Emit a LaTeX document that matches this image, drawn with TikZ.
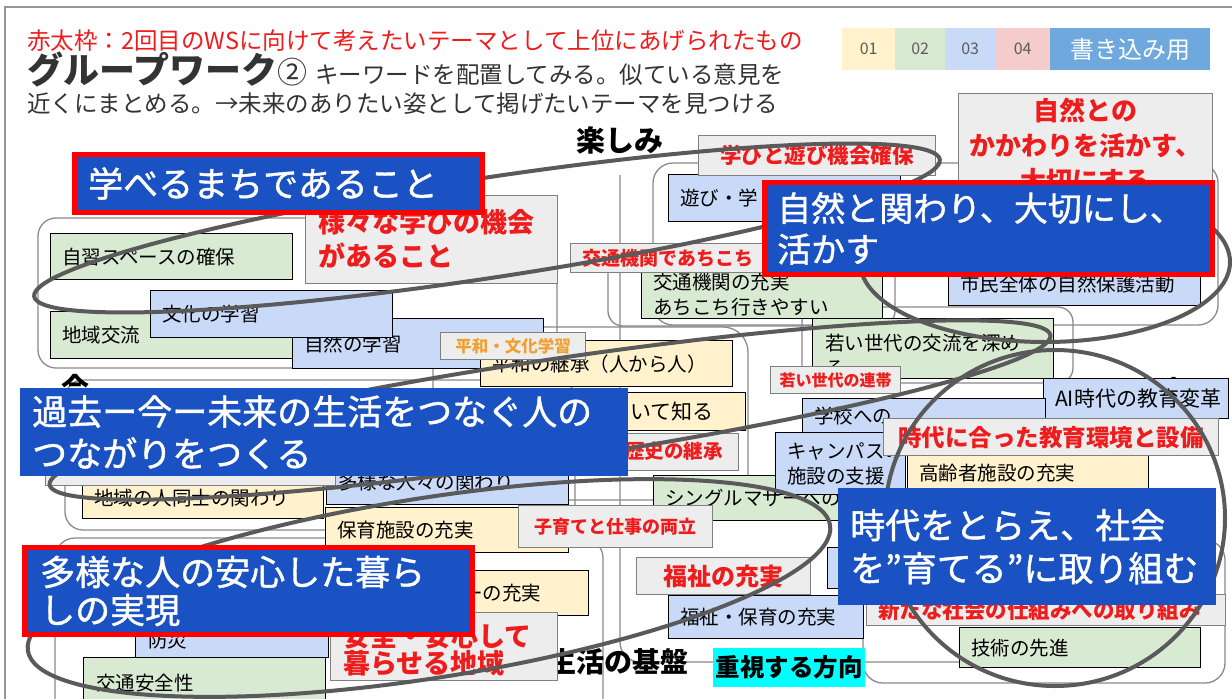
\documentclass[tikz,border=0pt]{standalone}
\usepackage{fontspec}
\setmainfont{Noto Sans CJK JP}
\newfontfamily\thickjp{Noto Sans CJK JP}[FakeBold=1.2]
\definecolor{yelc}{HTML}{FFF2CC}
\definecolor{grnc}{HTML}{D9EAD3}
\definecolor{bluc}{HTML}{C9DAF8}
\definecolor{pnkc}{HTML}{F4CCCC}
\definecolor{legc}{HTML}{6FA8DC}
\definecolor{themec}{HTML}{1A52C4}
\definecolor{gfill}{HTML}{EDEDED}
\definecolor{gbord}{HTML}{7F7F7F}
\definecolor{redc}{HTML}{EE1C1C}
\definecolor{orc}{HTML}{F0A030}
\definecolor{ellc}{HTML}{5A5A5A}
\definecolor{framec}{HTML}{8A8A8A}
\definecolor{darkc}{HTML}{333333}
\definecolor{cyanc}{HTML}{00FFFF}
\newcommand\fs[2]{\fontsize{#1}{#2}\selectfont}
\newcommand\bxl[8]{%
  \node[#2,minimum width=#5pt,minimum height=#6pt] (#1) at (#3,#4) {};
  \node[#7,anchor=west] (#1t) at ([xshift=12pt]#1.west) {#8};}
\newcommand\bxc[8]{%
  \node[#2,minimum width=#5pt,minimum height=#6pt] (#1) at (#3,#4) {};
  \node[#7] (#1t) at (#1.center) {#8};}
\begin{document}
\begin{tikzpicture}[x=1pt,y=-1pt,
  frame/.style={draw=framec,line width=1.3pt,rounded corners=#1},
  frame/.default=18,
  stk/.style={draw=black,line width=1.3pt,anchor=north west,inner sep=0pt},
  yel/.style={stk,fill=yelc}, grn/.style={stk,fill=grnc}, blu/.style={stk,fill=bluc},
  gry/.style={draw=gbord,line width=1.3pt,fill=gfill,anchor=north west,inner sep=0pt},
  theme/.style={fill=themec,anchor=north west,inner sep=0pt},
  themer/.style={theme,draw=red,line width=5pt},
  tx/.style={font=\fs{19.5}{25},text=black,inner sep=0pt,align=left},
  rt/.style={text=redc,inner sep=0pt,align=center},
  wt/.style={text=white,inner sep=0pt,align=left},
  lab/.style={text=black,inner sep=0pt,font=\bfseries\fs{28}{32}},
  lg/.style={anchor=north west,inner sep=0pt,minimum height=42pt,text=darkc!80,font=\fs{16}{18}},
  ell/.style={draw=ellc,line width=4pt}]
\useasboundingbox (0,0) rectangle (1232,699);
\fill[white] (0,0) rectangle (1232,699);
\draw[framec!90,line width=2pt] (5,7) rectangle (1240,710);

% header
\node[anchor=west,text=redc,font=\fs{23.5}{28},inner sep=0pt] (h1) at (27,41) {赤太枠：2回目のWSに向けて考えたいテーマとして上位にあげられたもの};
\node[anchor=west,text=darkc,inner sep=0pt] (h2) at (27,69) {{\bfseries\fs{36}{40}グループワーク}{\fs{30}{36}②}\hspace{8pt}{\fs{23.5}{28}キーワードを配置してみる。似ている意見を}};
\node[anchor=west,text=darkc,font=\fs{23.5}{28},inner sep=0pt] (h3) at (27,104) {近くにまとめる。→未来のありたい姿として掲げたいテーマを見つける};

% legend
\node[lg,fill=yelc,minimum width=53pt] (L1) at (842,28) {01};
\node[lg,fill=grnc,minimum width=50pt] (L2) at (895,28) {02};
\node[lg,fill=bluc,minimum width=50pt] (L3) at (945,28) {03};
\node[lg,fill=pnkc,minimum width=55pt] (L4) at (995,28) {04};
\node[lg,fill=legc,minimum width=160pt,text=white,font=\fs{24}{28}] (L5) at (1050,28) {書き込み用};

% group frames and axis
\draw[frame=18] (38,218) rectangle (557,368);
\draw[frame=20] (653,163) rectangle (1218,325);
\draw[frame=15] (608,250) rectangle (895,326);
\draw[frame=15] (802,307) rectangle (1073,383);
\draw[frame=25] (433,327) rectangle (748,500);
\draw[frame=18] (65,380) rectangle (575,530);
\draw[frame=20] (55,538) rectangle (603,720);
\draw[frame=20] (863,540) rectangle (1225,683);
\draw[frame=20] (620,175) -- (620,662) -- (960,662);

% axis labels
\node[lab,font=\bfseries\fs{29}{32}] (top) at (620,140) {楽しみ};
\node[lab] (now) at (75,388) {今};
\node[lab,font=\bfseries\fs{27}{30}] (fut) at (1160,390) {未来};
\node[lab,anchor=west] (base) at (548,662) {生活の基盤};
\node[fill=cyanc,anchor=north west,inner sep=0pt,minimum width=152pt,minimum height=39pt,font=\bfseries\fs{24.5}{28}] (dir) at (713,648) {重視する方向};

% sticky notes
\bxl{s1}{grn}{50}{233}{242}{46}{tx}{自習スペースの確保}
\bxl{s2}{grn}{50}{311}{243}{47}{tx}{地域交流}
\bxl{s4}{blu}{292}{318}{251}{50}{tx}{自然の学習}
\bxl{s3}{blu}{150}{290}{242}{47}{tx}{文化の学習}
\bxl{s5}{blu}{668}{174}{232}{47}{tx}{遊び・学}
\bxl{s6}{grn}{641}{270}{241}{48}{tx}{交通機関の充実\\あちこち行きやすい}
\bxl{s7}{blu}{948}{262}{252}{43}{tx}{市民全体の自然保護活動}
\node[grn,minimum width=241pt,minimum height=60pt] (s8) at (812,318) {};
\node[tx,anchor=west] (s8t) at (825,355) {若い世代の交流を深め\\る};
\bxl{s9}{yel}{480}{340}{252}{46}{tx}{平和の継承（人から人）}
\node[yel,minimum width=275pt,minimum height=38pt] (s10) at (470,392) {};
\node[tx,anchor=west,font=\fs{21}{25}] (s10t) at (588,411) {について知る};
\bxl{s11}{blu}{1043}{378}{185}{40}{tx,font=\fs{21}{25}}{AI時代の教育変革}
\bxl{s12}{blu}{802}{398}{243}{34}{tx}{学校への}
\bxl{s15}{grn}{653}{475}{250}{45}{tx}{シングルマザーへの}
\bxl{s13}{blu}{775}{432}{130}{62}{tx}{キャンパスの\\施設の支援}
\bxl{s14}{yel}{907}{450}{241}{45}{tx}{高齢者施設の充実}
\node[blu,minimum width=60pt,minimum height=41pt] (s24) at (827,547) {};
\bxl{s16}{blu}{326}{458}{242}{46}{tx}{多様な人々の関わり}
\bxl{s17}{yel}{82}{477}{241}{41}{tx}{地域の人同士の関わり}
\bxl{s18}{yel}{325}{507}{243}{45}{tx}{保育施設の充実}
\node[yel,minimum width=258pt,minimum height=45pt] (s19) at (330,570) {};
\node[tx,anchor=west] (s19t) at (463,593) {ーの充実};
\node[blu,minimum width=193pt,minimum height=42pt] (s20) at (135,615) {};
\node[tx,anchor=west] (s20t) at (148,640) {防災};
\node[grn,minimum width=242pt,minimum height=60pt] (s21) at (83,657) {};
\node[tx,anchor=west] (s21t) at (96,683) {交通安全性};
\bxl{s22}{blu}{668}{595}{195}{43}{tx}{福祉・保育の充実}
\bxl{s23}{grn}{959}{627}{241}{40}{tx}{技術の先進}

% gray title boxes
\bxc{g1}{gry}{698}{135}{237}{40}{rt,font=\bfseries\fs{21.5}{26}}{学びと遊び機会確保}
\bxc{g2}{gry}{958}{93}{254}{104}{rt,font=\bfseries\fs{26}{35}}{自然との\\かかわりを活かす、\\大切にする}
\node[gry,minimum width=252pt,minimum height=88pt] (g3) at (305,195) {};
\node[rt,anchor=west,align=left,font=\bfseries\fs{27}{34}] (g3t) at (318,239) {様々な学びの機会\\があること};
\node[gry,minimum width=232pt,minimum height=29pt] (g4) at (570,243) {};
\node[rt,anchor=west,font=\bfseries\fs{19}{22}] (g4t) at (582,258) {交通機関であちこち};
\bxc{g5}{gry}{440}{332}{145}{27}{rt,text=orc,font=\bfseries\fs{16.5}{20}}{平和・文化学習}
\bxc{g6}{gry}{770}{366}{130}{27}{rt,font=\bfseries\fs{16}{20}}{若い世代の連帯}
\node[gry,minimum width=138pt,minimum height=37pt] (g7) at (600,433) {};
\node[rt,anchor=west,font=\bfseries\fs{19.5}{22}] (g7t) at (625,451) {歴史の継承};
\bxc{g8}{gry}{518}{505}{194}{42}{rt,font=\bfseries\fs{18}{22}}{子育てと仕事の両立}
\bxc{g9}{gry}{883}{418}{335}{37}{rt,font=\bfseries\fs{23.5}{27}}{時代に合った教育環境と設備}
\bxc{g10}{gry}{636}{557}{174}{37}{rt,font=\bfseries\fs{24}{28}}{福祉の充実}
\node[gry,minimum width=227pt,minimum height=68pt] (g11) at (330,612) {};
\node[rt,anchor=west,align=left,font=\bfseries\fs{27}{27}] (g11t) at (343,650) {安全・安心して\\暮らせる地域};
\node[gry,minimum width=359pt,minimum height=31pt] (g12) at (866,594) {};
\node[rt,anchor=west,font=\bfseries\fs{21.5}{25}] (g12t) at (878,610) {新たな社会の仕組みへの取り組み};
\node[gry,minimum width=290pt,minimum height=45pt] (g13) at (45,440) {};

% hand-drawn ellipses
\draw[ell,rotate around={8.6:(487,228)}] (487,228) ellipse [x radius=458,y radius=50];
\draw[ell] (1045,262) ellipse [x radius=185,y radius=80];
\draw[ell,rotate around={8.5:(550,410)}] (550,410) ellipse [x radius=506,y radius=50];
\draw[ell,rotate around={8.9:(429,588)}] (429,588) ellipse [x radius=406,y radius=90];
\draw[ell] (1055,518) ellipse [x radius=170,y radius=168];

% theme boxes
\node[themer,minimum width=408pt,minimum height=58pt] (A) at (72,152) {};
\node[wt,anchor=west,font=\thickjp\fs{35}{40}] (At) at ([xshift=16pt]A.west) {学べるまちであること};
\node[themer,minimum width=448pt,minimum height=92pt] (B) at (762,180) {};
\node[wt,anchor=west,font=\thickjp\fs{34}{41}] (Bt) at ([xshift=15pt]B.west) {自然と関わり、大切にし、\\活かす};
\node[theme,minimum width=608pt,minimum height=88pt] (C) at (20,388) {};
\node[wt,anchor=west,font=\thickjp\fs{35}{42}] (Ct) at ([xshift=12pt]C.west) {過去ー今ー未来の生活をつなぐ人の\\つながりをつくる};
\node[themer,minimum width=448pt,minimum height=87pt] (D) at (22,545) {};
\node[wt,anchor=west,font=\thickjp\fs{35}{38}] (Dt) at ([xshift=18pt]D.west) {多様な人の安心した暮ら\\しの実現};
\node[theme,minimum width=378pt,minimum height=117pt] (E) at (838,488) {};
\node[wt,anchor=west,font=\thickjp\fs{35}{43}] (Et) at ([xshift=12pt]E.west) {時代をとらえ、社会\\を”育てる”に取り組む};
\end{tikzpicture}
\end{document}
